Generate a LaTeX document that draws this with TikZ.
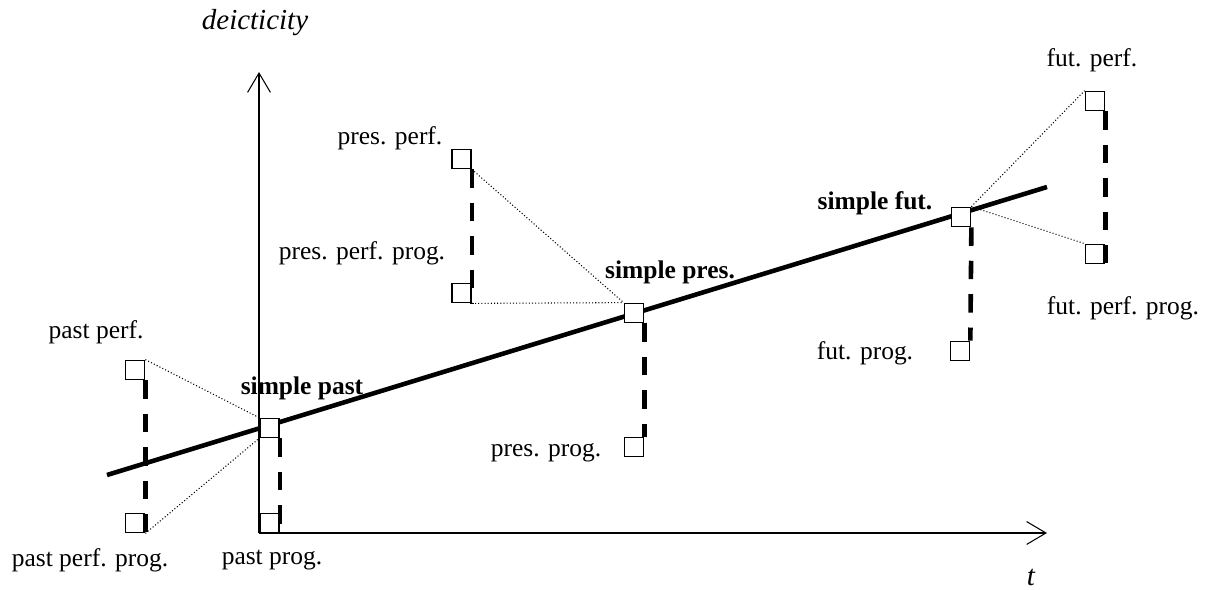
\documentclass[tikz,border=0pt]{standalone}
\usepackage{fontspec}
\setmainfont{Liberation Serif}
\usetikzlibrary{arrows.meta}
\begin{document}
\begin{tikzpicture}[x=0.02cm,y=-0.02cm,
  tbox/.style={draw, line width=0.8pt, fill=white, minimum size=11pt, inner sep=0pt},
  lab/.style={font=\fontsize{14.5}{17}\selectfont, inner sep=0pt},
  blab/.style={font=\fontsize{14.5}{17}\selectfont\bfseries, inner sep=0pt},
  ilab/.style={font=\fontsize{16.5}{19}\selectfont\itshape, inner sep=0pt},
  axisline/.style={line width=0.6pt, -{Straight Barb[length=11pt,width=13pt,line width=0.6pt]}},
  mainline/.style={line width=2.6pt},
  thickdash/.style={line width=2.6pt, dash pattern=on 10.5pt off 8.5pt},
  dotline/.style={line width=0.6pt, dash pattern=on 0.6pt off 1.2pt}]
\useasboundingbox (0,0) rectangle (1205,589);
% axes
\coordinate (O) at (259,533);
\coordinate (xend) at (1047,533);
\coordinate (yend) at (259,72);
\draw[axisline] (O) -- (xend);
\draw[axisline] (O) -- (yend);
\node[ilab] (ylab) at (255,23) {deicticity};
\node[ilab] (xlab) at (1031,577) {t};
% main line
\coordinate (L0) at (107,475);
\coordinate (L1) at (1047,187);
\draw[mainline] (L0) -- (L1);
% boxes
\node[tbox] (pp) at (135,370) {};
\node[tbox] (ppp) at (135,523) {};
\node[tbox] (sp) at (269.5,428) {};
\node[tbox] (pprog) at (269.5,523) {};
\node[tbox] (prp) at (461.5,159) {};
\node[tbox] (prpp) at (461.5,293) {};
\node[tbox] (spr) at (634,313) {};
\node[tbox] (prprog) at (634,447) {};
\node[tbox] (sf) at (961,217) {};
\node[tbox] (fprog) at (960,351) {};
\node[tbox] (fp) at (1095,101) {};
\node[tbox] (fpp) at (1095,254) {};
% dotted connectors
\draw[dotline] (pp.north east) -- (sp.north west);
\draw[dotline] (ppp.south east) -- (sp.south west);
\draw[dotline] (prp.south east) -- (spr.north west);
\draw[dotline] (prpp.south east) -- (spr.north west);
\draw[dotline] (sf.north east) -- (fp.north west);
\draw[dotline] (sf.north east) -- (fpp.north west);
% thick dashed connectors
\draw[thickdash] (pp.south east) -- (ppp.south east);
\draw[thickdash] (sp.south east) -- (pprog.south east);
\draw[thickdash] (prp.south east) -- (prpp.south east);
\draw[thickdash] (spr.south east) -- (prprog.north east);
\draw[thickdash] (sf.south east) -- (fprog.north east);
\draw[thickdash] (fp.south east) -- (fpp.south east);
% labels
\node[lab] (lpp) at (96,332) {past perf.};
\node[lab] (lppp) at (90,560) {past perf. prog.};
\node[lab] (lpprog) at (272,560) {past prog.};
\node[blab] (lsp) at (302,388) {simple past};
\node[lab] (lprp) at (390,138) {pres. perf.};
\node[lab] (lprpp) at (362,253) {pres. perf. prog.};
\node[blab] (lspr) at (670,272) {simple pres.};
\node[lab] (lprprog) at (546,453) {pres. prog.};
\node[blab] (lsf) at (875,203) {simple fut.};
\node[lab] (lfprog) at (865,353) {fut. prog.};
\node[lab] (lfp) at (1092,60) {fut. perf.};
\node[lab] (lfpp) at (1123,308) {fut. perf. prog.};
\end{tikzpicture}
\end{document}
